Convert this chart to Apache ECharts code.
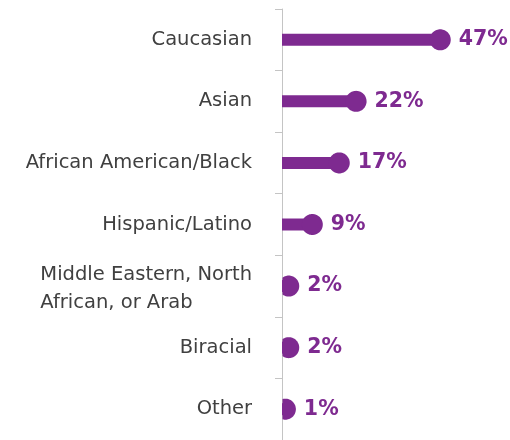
<!DOCTYPE html>
<html>
<head>
<meta charset="utf-8">
<script src="https://cdn.jsdelivr.net/npm/echarts@6/dist/echarts.min.js"></script>
<style>
  html, body { margin: 0; padding: 0; background: #fff; }
  #chart { width: 510px; height: 440px; }
</style>
</head>
<body>
<div id="chart"></div>
<script>
  // categories top to bottom
  const categories = [
    'Caucasian',
    'Asian',
    'African American/Black',
    'Hispanic/Latino',
    'Middle Eastern, North\nAfrican, or Arab',
    'Biracial',
    'Other',
  ];
  const values = [47, 22, 17, 9, 2, 2, 1];

  const purple = '#7e2a90';
  const chart = echarts.init(document.getElementById('chart'));

  const option = {
    animation: false,
    grid: {
      left: 282,
      right: 26,
      top: 9,
      bottom: -4,
    },
    xAxis: {
      type: 'value',
      min: 0,
      max: 60,
      show: false,
    },
    yAxis: {
      type: 'category',
      inverse: true,
      data: categories,
      axisLine: { show: true, lineStyle: { color: '#c4c4c4', width: 1 } },
      axisTick: { show: true, length: 7, lineStyle: { color: '#c4c4c4' } },
      axisLabel: {
        margin: 30,
        color: '#404040',
        fontSize: 19.5,
        fontFamily: 'DejaVu Sans',
        formatter: (v) => {
          if (v.indexOf('\n') >= 0) {
            return v.split('\n').map((s) => '{l|' + s + '}').join('\n');
          }
          return v;
        },
        rich: {
          l: {
            align: 'left',
            color: '#404040',
            fontSize: 19.5,
            fontFamily: 'DejaVu Sans',
            lineHeight: 28,
            padding: [6, 0, 0, 0],
          },
        },
      },
    },
    series: [
      {
        type: 'bar',
        data: values,
        barWidth: 12,
        itemStyle: { color: purple },
        silent: true,
      },
      {
        // dots, cut off at the axis line like the reference
        type: 'custom',
        data: values.map((v, i) => [v, i]),
        encode: { x: 0, y: 1 },
        z: 3,
        renderItem: (params, api) => {
          const p = api.coord([api.value(0), api.value(1)]);
          const x0 = api.coord([0, api.value(1)])[0];
          const r = 10.5;
          const pts = [];
          for (let k = 0; k < 72; k++) {
            const t = (k / 72) * Math.PI * 2;
            pts.push([Math.max(p[0] + r * Math.cos(t), x0 + 0.5), p[1] + r * Math.sin(t)]);
          }
          return {
            type: 'polygon',
            shape: { points: pts },
            style: { fill: purple },
          };
        },
      },
      {
        // value labels
        type: 'scatter',
        data: values,
        symbol: 'circle',
        symbolSize: 21,
        itemStyle: { color: 'rgba(0,0,0,0)', opacity: 1 },
        label: {
          show: true,
          position: 'right',
          distance: 8,
          formatter: (p) => p.value + '%',
          color: purple,
          fontSize: 20.5,
          fontWeight: 'bold',
          fontFamily: 'DejaVu Sans',
        },
      },
    ],
  };

  chart.setOption(option);
</script>
</body>
</html>
